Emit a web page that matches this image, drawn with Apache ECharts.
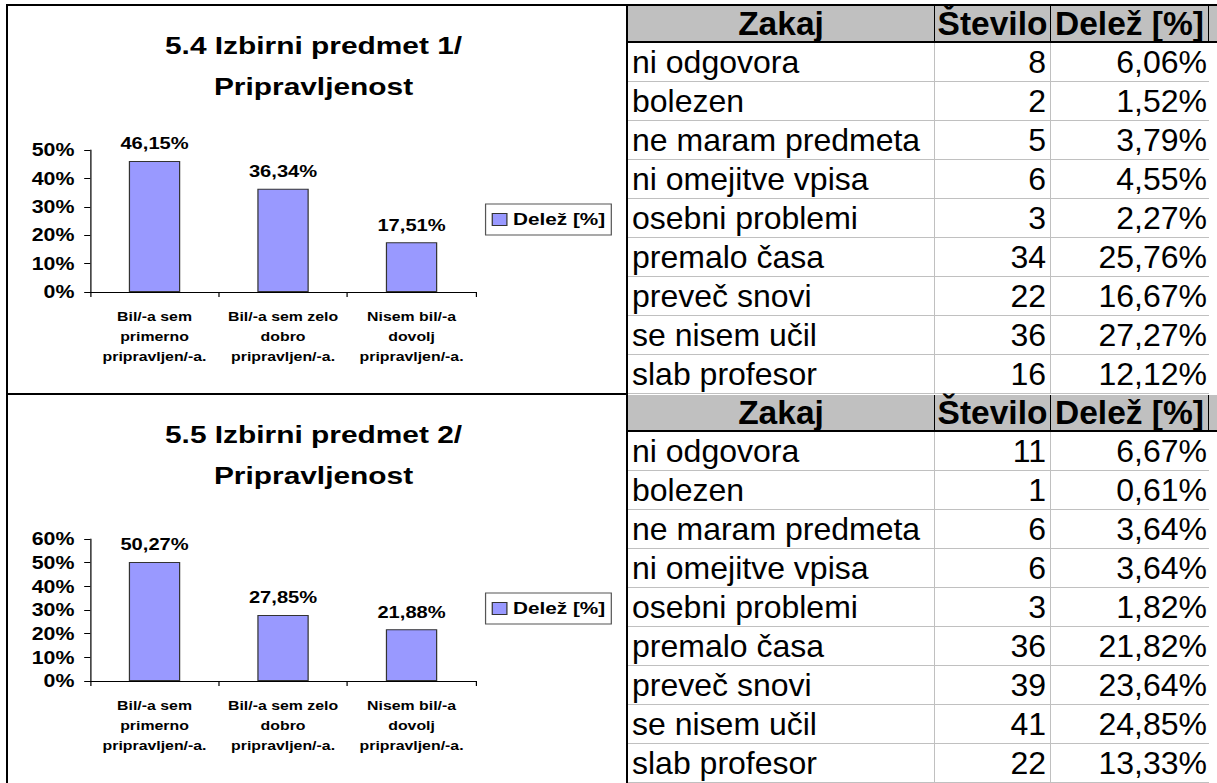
<!DOCTYPE html>
<html>
<head>
<meta charset="utf-8">
<script src="https://cdn.jsdelivr.net/npm/echarts@6/dist/echarts.min.js"></script>
<style>
  body { margin: 0; width: 1217px; height: 783px; overflow: hidden; background: #fff; position: relative;
         font-family: "Liberation Sans", Arial, sans-serif; }
  /* the excel charts are stretched sideways, so the chart is drawn narrower and scaled up */
  #charts { position: absolute; left: 0; top: 0; width: 514px; height: 783px;
            transform: scaleX(1.22); transform-origin: 0 0; }
  .line { position: absolute; background: #000; }
  .tbl { position: absolute; left: 628px; width: 589px; height: 388px; display: grid;
         grid-template-columns: 307px 116px 158px 1fr; grid-template-rows: 37px repeat(9, 1fr); }
  .tbl div { box-sizing: border-box; display: flex; align-items: center; font-size: 32px; color: #000;
             border-right: 1px solid #c0c0c0; border-bottom: 1px solid #c0c0c0; padding: 0 4px; white-space: nowrap; }
  .tbl .hd { background: #c0c0c0; font-weight: bold; font-size: 33.5px; justify-content: center; padding: 0;
             border-right: 1px solid #000; border-bottom: 2px solid #000; }
  .tbl .num { justify-content: flex-end; }
  .tbl .pct { justify-content: flex-end; padding-right: 2px; border-right: none; }
  .tbl .end { border-right: none; }
</style>
</head>
<body>
<div id="charts"></div>
<div id="tbl1" class="tbl" style="top:6px"></div>
<div id="tbl2" class="tbl" style="top:395px"></div>
<div class="line" style="left:6px;top:4px;width:1211px;height:2px"></div>
<div class="line" style="left:6px;top:4px;width:2px;height:779px"></div>
<div class="line" style="left:626px;top:4px;width:2px;height:779px"></div>
<div class="line" style="left:6px;top:393px;width:622px;height:2px"></div>
<script>
// chart data
var categories = ['Bil/-a sem\nprimerno\npripravljen/-a.', 'Bil/-a sem zelo\ndobro\npripravljen/-a.', 'Nisem bil/-a\ndovolj\npripravljen/-a.'];
var titles = ['5.4 Izbirni predmet 1/\nPripravljenost', '5.5 Izbirni predmet 2/\nPripravljenost'];
var seriesName = 'Delež [%]';
var share1 = [46.15, 36.34, 17.51];
var share2 = [50.27, 27.85, 21.88];
var yMax = [50, 60];

// table data
var headers = ['Zakaj', 'Število', 'Delež [%]'];
var reasons = ['ni odgovora', 'bolezen', 'ne maram predmeta', 'ni omejitve vpisa', 'osebni problemi',
               'premalo časa', 'preveč snovi', 'se nisem učil', 'slab profesor'];
var counts1 = [8, 2, 5, 6, 3, 34, 22, 36, 16];
var pct1 = [6.06, 1.52, 3.79, 4.55, 2.27, 25.76, 16.67, 27.27, 12.12];
var counts2 = [11, 1, 6, 6, 3, 36, 39, 41, 22];
var pct2 = [6.67, 0.61, 3.64, 3.64, 1.82, 21.82, 23.64, 24.85, 13.33];

var font = '"Liberation Sans", Arial, sans-serif';
function fmt(v) { return v.toFixed(2).replace('.', ',') + '%'; }

function fillTable(el, counts, pcts) {
  var html = '';
  headers.forEach(function (h) {
    html += '<div class="hd">' + h + '</div>';
  });
  html += '<div class="hd end"></div>';
  reasons.forEach(function (r, i) {
    html += '<div>' + r + '</div>';
    html += '<div class="num">' + counts[i] + '</div>';
    html += '<div class="pct">' + fmt(pcts[i]) + '</div>';
    html += '<div class="end" style="border-bottom:none"></div>';
  });
  el.innerHTML = html;
}
fillTable(document.getElementById('tbl1'), counts1, pct1);
fillTable(document.getElementById('tbl2'), counts2, pct2);

var chart = echarts.init(document.getElementById('charts'), null, { renderer: 'svg' });
var shares = [share1, share2];
var option = { title: [], legend: [], grid: [], xAxis: [], yAxis: [], series: [], animation: false };

for (var i = 0; i < 2; i++) {
  var off = i * 389;
  option.title.push({
    text: titles[i], left: 'center', top: 25 + off, padding: 0,
    textStyle: { fontSize: 24.5, fontWeight: 'bold', lineHeight: 41, color: '#000', fontFamily: font }
  });
  option.legend.push({
    data: [seriesName], left: 398, top: 204 + off, orient: 'vertical',
    padding: [7, 5], itemWidth: 12, itemHeight: 12, icon: 'rect',
    borderColor: '#555', borderWidth: 1,
    itemStyle: { borderColor: '#333', borderWidth: 1 },
    textStyle: { fontSize: 17, fontWeight: 'bold', color: '#000', fontFamily: font }
  });
  option.grid.push({ left: 74, top: 150 + off, width: 316, height: 142 });
  option.xAxis.push({
    type: 'category', gridIndex: i, data: categories,
    axisLine: { lineStyle: { color: '#000', width: 1 } },
    axisTick: { show: true, length: 5, lineStyle: { color: '#000' } },
    axisLabel: { interval: 0, margin: 15, fontSize: 13, lineHeight: 20, fontWeight: 'bold', color: '#000', fontFamily: font }
  });
  option.yAxis.push({
    type: 'value', gridIndex: i, min: 0, max: yMax[i], interval: 10,
    splitLine: { show: false },
    axisLine: { show: true, lineStyle: { color: '#000', width: 1 } },
    axisTick: { show: true, length: 5, lineStyle: { color: '#000' } },
    axisLabel: { formatter: '{value}%', margin: 13, fontSize: 17.5, fontWeight: 'bold', color: '#000', fontFamily: font }
  });
  option.series.push({
    name: seriesName, type: 'bar', xAxisIndex: i, yAxisIndex: i, data: shares[i],
    barCategoryGap: '60%',
    itemStyle: { color: '#9999ff', borderColor: '#333', borderWidth: 1 },
    label: {
      show: true, position: 'top', distance: 9,
      formatter: function (p) { return fmt(p.value); },
      fontSize: 16.5, fontWeight: 'bold', color: '#000', fontFamily: font
    }
  });
}
chart.setOption(option);
</script>
</body>
</html>
